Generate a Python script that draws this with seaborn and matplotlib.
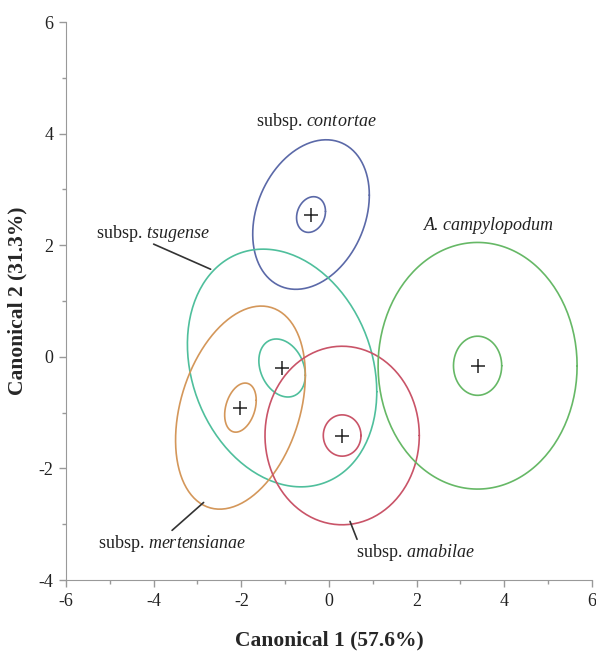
import numpy as np
import pandas as pd
import seaborn as sns
import matplotlib
matplotlib.use("Agg")
import matplotlib.pyplot as plt
from matplotlib.ticker import MultipleLocator

# group means (canonical scores) and ellipse sizes
groups = ["contortae", "tsugense", "mertensianae", "amabilae", "campylopodum"]
colors = ["#5b69a8", "#4fbf9c", "#d4975a", "#c95468", "#66b866"]
cx = [-0.41, -1.07, -2.02, 0.30, 3.39]
cy = [2.55, -0.20, -0.91, -1.41, -0.16]

# outer (50% density) ellipses: half extent in x, y and tilt (correlation)
sx_out = [1.33, 2.16, 1.48, 1.76, 2.27]
sy_out = [1.34, 2.13, 1.82, 1.60, 2.21]
r_out = [0.26, -0.20, 0.32, 0.0, 0.0]

# inner (confidence of the mean) ellipses
sx_in = [0.33, 0.53, 0.36, 0.43, 0.55]
sy_in = [0.32, 0.52, 0.44, 0.37, 0.53]
r_in = [0.18, -0.25, 0.30, 0.0, 0.0]

labels = ["subsp. $\\mathit{contortae}$", "subsp. $\\mathit{tsugense}$",
          "subsp. $\\mathit{mertensianae}$", "subsp. $\\mathit{amabilae}$",
          "A. campylopodum"]
label_x = [-0.30, -4.02, -3.57, 1.98, 3.64]
label_y = [4.21, 2.21, -3.34, -3.50, 2.36]

# leader lines (label end -> ellipse end), only for some groups
lead_x0 = [None, -4.00, -3.58, 0.48, None]
lead_y0 = [None, 2.02, -3.11, -2.95, None]
lead_x1 = [None, -2.70, -2.86, 0.64, None]
lead_y1 = [None, 1.57, -2.61, -3.27, None]


def ellipse(cx, cy, sx, sy, r, n=200):
    t = np.linspace(0, 2 * np.pi, n)
    x = cx + sx * np.cos(t)
    y = cy + sy * (r * np.cos(t) + np.sqrt(1 - r ** 2) * np.sin(t))
    return pd.DataFrame({"x": x, "y": y})


sns.set_style("ticks")
plt.rcParams["font.family"] = ["Liberation Serif", "DejaVu Serif"]
plt.rcParams["mathtext.fontset"] = "custom"
plt.rcParams["mathtext.rm"] = "Liberation Serif"
plt.rcParams["mathtext.it"] = "Liberation Serif:italic"
plt.rcParams["axes.unicode_minus"] = False

fig = plt.figure(figsize=(5.96, 6.58), dpi=100)
ax = fig.add_axes([0.1107, 0.1185, 0.8826, 0.848])

for i, g in enumerate(groups):
    for sx, sy, r in [(sx_out[i], sy_out[i], r_out[i]), (sx_in[i], sy_in[i], r_in[i])]:
        e = ellipse(cx[i], cy[i], sx, sy, r)
        sns.lineplot(data=e, x="x", y="y", sort=False, estimator=None,
                     color=colors[i], lw=1.2, ax=ax)

means = pd.DataFrame({"x": cx, "y": cy})
sns.scatterplot(data=means, x="x", y="y", marker="+", s=110, color="#222222",
                linewidth=1.1, ax=ax, zorder=5)

for i in range(len(groups)):
    style = "italic" if i == 4 else "normal"
    ax.text(label_x[i], label_y[i], labels[i], ha="center", va="center",
            fontsize=13, fontstyle=style, color="#222222")
    if lead_x0[i] is not None:
        ax.plot([lead_x0[i], lead_x1[i]], [lead_y0[i], lead_y1[i]],
                color="#333333", lw=1.2)

ax.set_xlim(-6, 6)
ax.set_ylim(-4, 6)
ax.xaxis.set_major_locator(MultipleLocator(2))
ax.xaxis.set_minor_locator(MultipleLocator(1))
ax.yaxis.set_major_locator(MultipleLocator(2))
ax.yaxis.set_minor_locator(MultipleLocator(1))
ax.tick_params(which="major", length=5, width=1, color="#999999",
               labelsize=13, labelcolor="#222222", pad=4)
ax.tick_params(which="minor", length=3, width=1, color="#999999")
for side in ["top", "right"]:
    ax.spines[side].set_visible(False)
for side in ["left", "bottom"]:
    ax.spines[side].set_color("#999999")

ax.set_xlabel("Canonical 1 (57.6%)", fontsize=15.5, fontweight="bold", va="center")
ax.set_ylabel("Canonical 2 (31.3%)", fontsize=15.5, fontweight="bold", va="center")
ax.xaxis.set_label_coords(0.5, -0.108)
ax.yaxis.set_label_coords(-0.092, 0.5)

fig.savefig("out.png", dpi=100)
